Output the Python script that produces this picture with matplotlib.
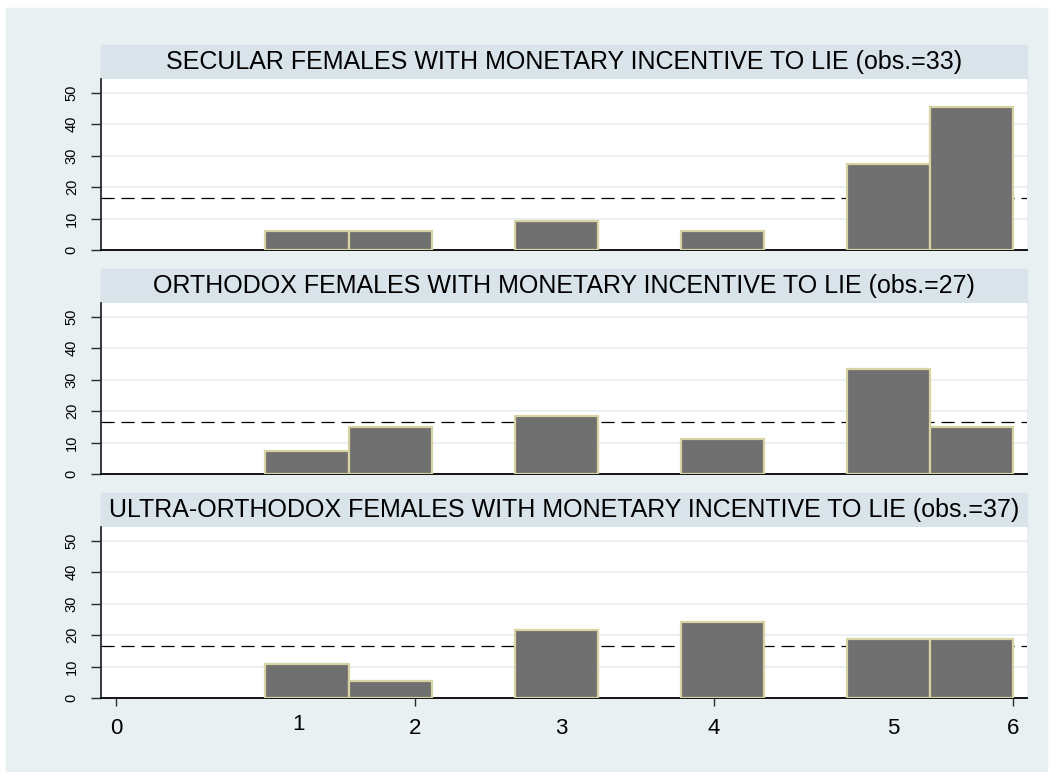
import numpy as np
import matplotlib
matplotlib.use("Agg")
import matplotlib.pyplot as plt
from matplotlib.patches import Rectangle

# ------------------------------
# Datos (porcentaje por bin)
# ------------------------------
titles = [
    "SECULAR FEMALES WITH MONETARY INCENTIVE TO LIE (obs.=33)",
    "ORTHODOX FEMALES WITH MONETARY INCENTIVE TO LIE (obs.=27)",
    "ULTRA-ORTHODOX FEMALES WITH MONETARY INCENTIVE TO LIE (obs.=37)",
]
counts_secular = [2, 2, 3, 2, 9, 15]
counts_orthodox = [2, 4, 5, 3, 9, 4]
counts_ultra = [4, 2, 8, 9, 7, 7]
all_counts = [counts_secular, counts_orthodox, counts_ultra]

# 9 bins de 1 a 6; solo 6 tienen datos
bin_width = 5 / 9
bin_index = [0, 1, 3, 5, 7, 8]
bin_left = [1 + i * bin_width for i in bin_index]

uniform_pct = 100 / 6

xtick_pos = [0, 2, 4, 6]
xtext_pos = [1.22, 2.98, 5.2]
xtext_lab = ["1", "3", "5"]
xtext_y = [-0.19, -0.21, -0.21]
yticks = [0, 10, 20, 30, 40, 50]

# ------------------------------
# Estilo
# ------------------------------
plt.rcParams["font.family"] = ["Liberation Sans", "DejaVu Sans"]
W, H = 1053, 772
bg = "#e8f0f2"
strip = "#d8e4ea"
grid = "#e8eff2"
bar_fc = "#707070"
bar_ec = "#d8d3a2"
axc = "#2a2a2a"

fig = plt.figure(figsize=(W / 100, H / 100), dpi=100)
fig.patch.set_facecolor("white")
fig.patches.append(Rectangle((6 / W, 0), (1047 - 6) / W, (H - 8) / H,
                             transform=fig.transFigure, color=bg, zorder=-10))

x0, x1 = 101, 1027
plot_tops = [79, 303, 527]
plot_h = 171
strip_h = 34

for k, (title, counts) in enumerate(zip(titles, all_counts)):
    top = plot_tops[k]
    ax = fig.add_axes([x0 / W, 1 - (top + plot_h) / H, (x1 - x0) / W, plot_h / H])
    ax.set_facecolor("white")
    pct = 100 * np.array(counts) / sum(counts)

    ax.bar(bin_left, pct, width=bin_width, align="edge", color=bar_fc,
           edgecolor=bar_ec, linewidth=1.6, zorder=3)
    ax.axhline(uniform_pct, color="black", linewidth=0.9,
               dashes=(10.5, 5.5), zorder=2)

    ax.set_xlim(-0.1, 6.094)
    ax.set_ylim(0, 54.4)
    ax.set_yticks(yticks)
    ax.set_yticklabels([str(v) for v in yticks], rotation=90, va="center",
                       fontsize=10.5)
    for v in yticks[1:]:
        ax.axhline(v, color=grid, linewidth=1.3, zorder=1)

    for s in ["top", "right"]:
        ax.spines[s].set_visible(False)
    ax.spines["left"].set_color(axc)
    ax.spines["bottom"].set_color("black")
    ax.spines["left"].set_linewidth(1.3)
    ax.spines["bottom"].set_linewidth(1.3)
    ax.tick_params(axis="y", length=7, width=1, color=axc, pad=9)

    if k == 2:
        ax.set_xticks(xtick_pos)
        ax.set_xticklabels([str(v) for v in xtick_pos], fontsize=16)
        ax.tick_params(axis="x", length=5.8, width=1, color=axc, pad=8.5)
        for xp, yp, lab in zip(xtext_pos, xtext_y, xtext_lab):
            ax.text(xp, yp, lab, transform=ax.get_xaxis_transform(),
                    ha="center", va="baseline", fontsize=16)
    else:
        ax.set_xticks([])

    # banda del título
    fig.patches.append(Rectangle((x0 / W, 1 - top / H), (x1 - x0) / W, strip_h / H,
                                 transform=fig.transFigure, color=strip, zorder=-5))
    fig.text((x0 + x1) / 2 / W, 1 - (top - strip_h / 2) / H, title,
             ha="center", va="center", fontsize=18)

fig.savefig("out.png", dpi=100)
